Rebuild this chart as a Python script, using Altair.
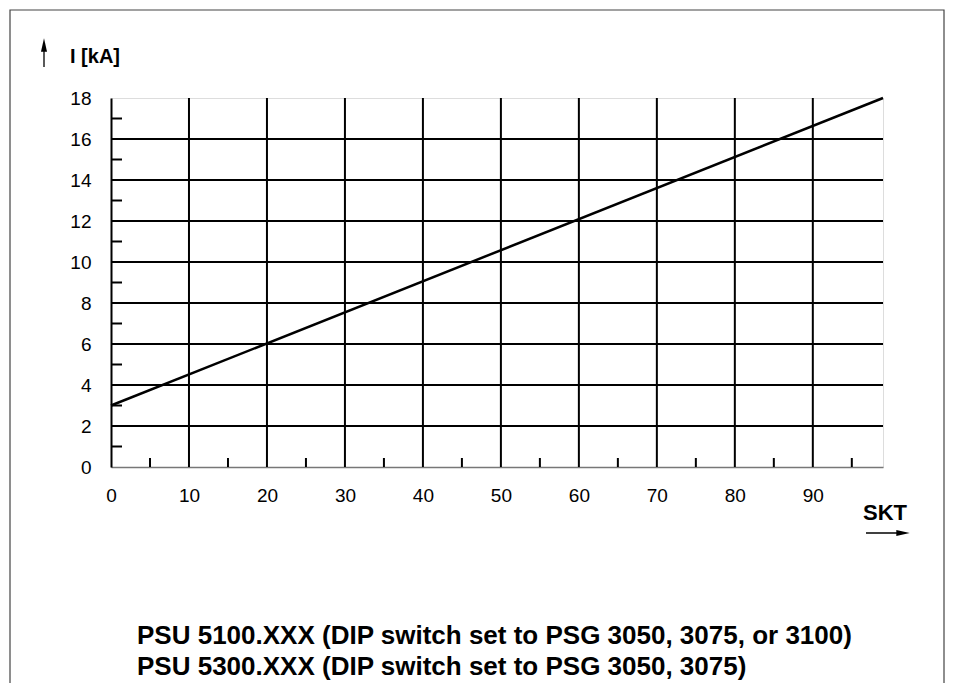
import altair as alt
import pandas as pd

# ---- data ----
skt = [0, 99]
current_ka = [3.0, 18.0]
x_tick_labels = [0, 10, 20, 30, 40, 50, 60, 70, 80, 90]
y_tick_labels = [0, 2, 4, 6, 8, 10, 12, 14, 16, 18]
x_grid = [10, 20, 30, 40, 50, 60, 70, 80, 90]
y_grid = [2, 4, 6, 8, 10, 12, 14, 16]
x_minor = [5, 15, 25, 35, 45, 55, 65, 75, 85, 95]
y_minor = [1, 3, 5, 7, 9, 11, 13, 15, 17]
y_title = "I [kA]"
x_title = "SKT"
caption_line1 = "PSU 5100.XXX (DIP switch set to PSG 3050, 3075, or 3100)"
caption_line2 = "PSU 5300.XXX (DIP switch set to PSG 3050, 3075)"

FONT = "Liberation Sans"
W, H = 772, 369

xs = alt.Scale(domain=[0, 99], nice=False, zero=False)
ys = alt.Scale(domain=[0, 18], nice=False)

line_df = pd.DataFrame({"skt": skt, "i": current_ka})

base_line = alt.Chart(line_df).mark_line(color="black", strokeWidth=2.5).encode(
    x=alt.X("skt:Q", scale=xs,
            axis=alt.Axis(values=x_tick_labels, title=None, grid=False, ticks=False,
                          domainColor="#777", domainWidth=1.5, labelFont=FONT,
                          labelFontSize=19, labelColor="black", labelPadding=19,
                          labelFlush=False)),
    y=alt.Y("i:Q", scale=ys,
            axis=alt.Axis(values=y_tick_labels, title=None, grid=False, ticks=False,
                          domainColor="black", domainWidth=2, labelFont=FONT,
                          labelFontSize=19, labelColor="black", labelPadding=20,
                          labelFlush=False)),
)

vgrid = alt.Chart(pd.DataFrame({"g": x_grid})).mark_rule(color="black", strokeWidth=2).encode(
    x=alt.X("g:Q", scale=xs))
hgrid = alt.Chart(pd.DataFrame({"g": y_grid})).mark_rule(color="black", strokeWidth=2).encode(
    y=alt.Y("g:Q", scale=ys))

xminor = alt.Chart(pd.DataFrame({"m": x_minor})).mark_rule(color="black", strokeWidth=2).encode(
    x=alt.X("m:Q", scale=xs), y=alt.value(H), y2=alt.value(H - 9))
yminor = alt.Chart(pd.DataFrame({"m": y_minor})).mark_rule(color="black", strokeWidth=2).encode(
    y=alt.Y("m:Q", scale=ys), x=alt.value(0), x2=alt.value(11))

one = pd.DataFrame({"t": [0]})


def label(text, x, y, size):
    return alt.Chart(pd.DataFrame({"t": [text]})).mark_text(
        font=FONT, fontSize=size, fontWeight="bold", align="left",
        baseline="middle", color="black"
    ).encode(text="t:N", x=alt.value(x), y=alt.value(y))


ytitle = label(y_title, -41, -41, 20)
xtitle = label(x_title, 752, 415, 22)
cap1 = label(caption_line1, 26, 538, 26)
cap2 = label(caption_line2, 26, 569, 26)

up_shaft = alt.Chart(one).mark_rule(color="black", strokeWidth=1.3).encode(
    x=alt.value(-67), y=alt.value(-50), y2=alt.value(-31))
up_head = alt.Chart(one).mark_point(
    shape="M0,-1L0.45,1L-0.45,1Z", filled=True, color="black", opacity=1, size=180
).encode(x=alt.value(-67), y=alt.value(-53))

r_shaft = alt.Chart(one).mark_rule(color="black", strokeWidth=1.3).encode(
    x=alt.value(755), x2=alt.value(790), y=alt.value(435))
r_head = alt.Chart(one).mark_point(
    shape="M1,0L-1,0.45L-1,-0.45Z", filled=True, color="black", opacity=1, size=180
).encode(x=alt.value(792), y=alt.value(435))

frame = alt.Chart(one).mark_rect(fill=None, stroke="#444", strokeWidth=1.2).encode(
    x=alt.value(-101), x2=alt.value(833), y=alt.value(-88), y2=alt.value(640))

chart = alt.layer(
    frame, vgrid, hgrid, xminor, yminor, base_line, ytitle, xtitle,
    up_shaft, up_head, r_shaft, r_head, cap1, cap2
).properties(
    width=W, height=H,
    padding={"left": 103, "top": 90, "right": 62, "bottom": 216},
    autosize=alt.AutoSizeParams(type="none"),
).configure_view(stroke="#777", strokeWidth=1.5).configure(background="white")

chart.save("out.html", embed_options={"renderer": "svg", "actions": False})
